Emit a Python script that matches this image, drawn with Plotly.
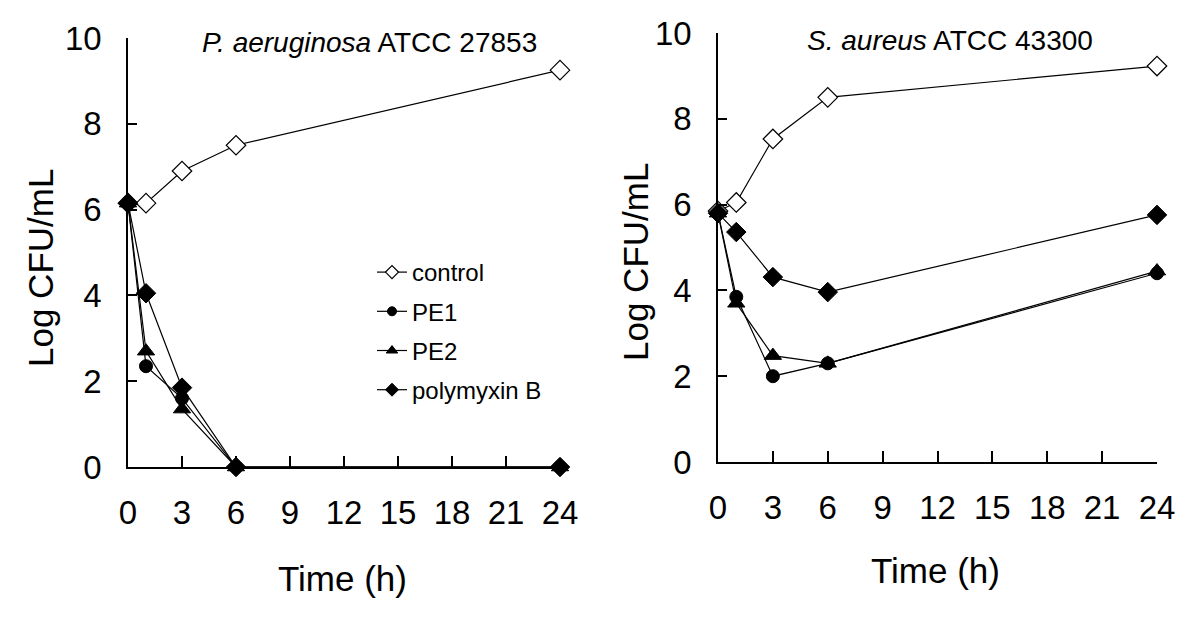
import plotly.graph_objects as go

time_h = [0, 1, 3, 6, 24]

# P. aeruginosa ATCC 27853
pa_control = [6.15, 6.15, 6.9, 7.5, 9.25]
pa_pe1 = [6.15, 2.35, 1.6, 0, 0]
pa_pe2 = [6.15, 2.7, 1.35, 0, 0]
pa_polymyxin = [6.15, 4.05, 1.85, 0, 0]

# S. aureus ATCC 43300
sa_control = [5.85, 6.05, 7.53, 8.5, 9.23]
sa_pe1 = [5.8, 3.85, 2.0, 2.3, 4.4]
sa_pe2 = [5.8, 3.7, 2.48, 2.3, 4.45]
sa_polymyxin = [5.8, 5.36, 4.31, 3.96, 5.76]

series_names = ["control", "PE1", "PE2", "polymyxin B"]
x_ticks = [0, 3, 6, 9, 12, 15, 18, 21, 24]
y_ticks = [0, 2, 4, 6, 8, 10]

W, H, OFF = 1200, 634, 8  # page body margin offset


def fx(px):
    return (px - OFF) / W


def fy(py):
    return 1 - (py - OFF) / H


styles = {
    "control": dict(symbol="diamond", size=15, color="white", line=dict(color="black", width=1.2)),
    "PE1": dict(symbol="circle", size=13, color="black", line=dict(color="black", width=1)),
    "PE2": dict(symbol="triangle-up", size=15, color="black", line=dict(color="black", width=1)),
    "polymyxin B": dict(symbol="diamond", size=15, color="black", line=dict(color="black", width=1)),
}
legend_sizes = {"control": 10, "PE1": 9, "PE2": 10, "polymyxin B": 10}

fig = go.Figure()
panels = [
    ("x", "y", [pa_control, pa_pe1, pa_pe2, pa_polymyxin]),
    ("x2", "y2", [sa_control, sa_pe1, sa_pe2, sa_polymyxin]),
]
for xa, ya, data in panels:
    for name, vals in zip(series_names, data):
        fig.add_trace(go.Scatter(
            x=time_h, y=vals, name=name, mode="lines+markers",
            line=dict(color="black", width=1.2),
            marker=styles[name], xaxis=xa, yaxis=ya,
            showlegend=False, cliponaxis=False,
        ))

# legend entries (smaller symbols, as in the original legend)
for name in series_names:
    m = dict(styles[name])
    m["size"] = legend_sizes[name]
    fig.add_trace(go.Scatter(
        x=[None], y=[None], name=name, mode="lines+markers",
        line=dict(color="black", width=1.2), marker=m,
        showlegend=True, legendgroup=name,
    ))

font_family = "Liberation Sans, Arial, sans-serif"
axis_common = dict(
    showline=True, linecolor="black", linewidth=1.5, showgrid=False, zeroline=False,
    ticks="inside", tickcolor="black", tickwidth=1.5, automargin=False,
    tickfont=dict(family=font_family, size=33, color="black"),
)

fig.update_layout(
    width=W, height=H,
    margin=dict(l=0, r=0, t=0, b=0, pad=0, autoexpand=False),
    paper_bgcolor="white", plot_bgcolor="white",
    font=dict(family=font_family, color="black"),
    xaxis=dict(domain=[fx(128), fx(560)], range=[0, 24], tickvals=x_ticks, ticklen=11,
               ticklabelstandoff=16, anchor="y", **axis_common),
    yaxis=dict(domain=[fy(467), fy(38)], range=[0, 10], tickvals=y_ticks, ticklen=9,
               ticklabelstandoff=18, anchor="x", **axis_common),
    xaxis2=dict(domain=[fx(718), fx(1157)], range=[0, 24], tickvals=x_ticks, ticklen=11,
                ticklabelstandoff=16, anchor="y2", **axis_common),
    yaxis2=dict(domain=[fy(462), fy(33)], range=[0, 10], tickvals=y_ticks, ticklen=9,
                ticklabelstandoff=18, anchor="x2", **axis_common),
    legend=dict(x=fx(372), y=fy(250), xanchor="left", yanchor="top",
                bgcolor="rgba(0,0,0,0)", font=dict(family=font_family, size=24, color="black"),
                tracegroupgap=5, itemwidth=30, itemsizing="trace"),
)

annotations = [
    dict(text="<i>P. aeruginosa</i> ATCC 27853", x=fx(369), y=fy(43), font_size=28),
    dict(text="<i>S. aureus</i> ATCC 43300", x=fx(950), y=fy(40), font_size=28),
    dict(text="Time (h)", x=fx(342), y=fy(578), font_size=35),
    dict(text="Time (h)", x=fx(935), y=fy(570), font_size=35),
    dict(text="Log CFU/mL", x=fx(40), y=fy(268), font_size=35, textangle=-90),
    dict(text="Log CFU/mL", x=fx(636), y=fy(262), font_size=35, textangle=-90),
]
for a in annotations:
    fig.add_annotation(xref="paper", yref="paper", showarrow=False,
                       xanchor="center", yanchor="middle",
                       font=dict(family=font_family, size=a.pop("font_size"), color="black"),
                       **a)

fig.write_html("out.html")
